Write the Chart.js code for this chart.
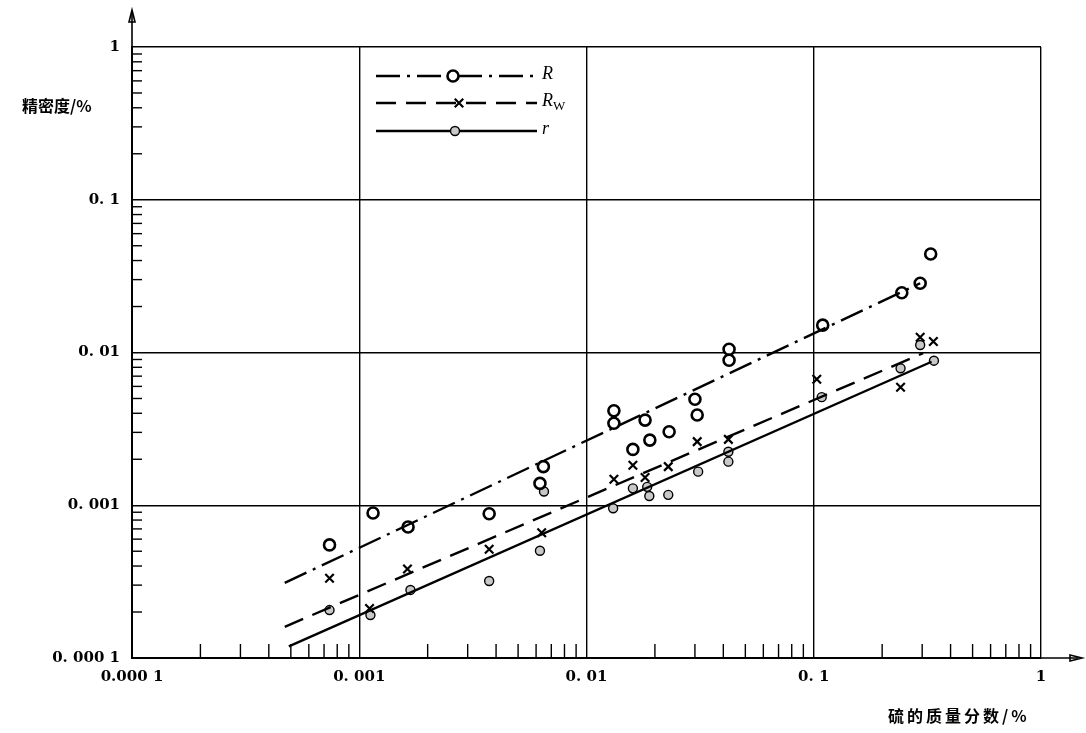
<!DOCTYPE html>
<html>
<head>
<meta charset="utf-8">
<script src="https://cdn.jsdelivr.net/npm/chart.js@4/dist/chart.umd.min.js"></script>
<style>
  body { margin: 0; background: #fff; }
</style>
</head>
<body>
<canvas id="precChart" width="1086" height="733"></canvas>
<script>
// tick values / labels
const tickValues = [0.0001, 0.001, 0.01, 0.1, 1];
const xTickLabels = ['0.000 1', '0. 001', '0. 01', '0. 1', '1'];
const yTickLabels = ['0. 000 1', '0. 001', '0. 01', '0. 1', '1'];

// R  (open circles)
const R_x = [0.00074, 0.00115, 0.00164, 0.00373, 0.00624, 0.00646, 0.0132, 0.0132, 0.0160, 0.0181,
             0.0190, 0.0231, 0.0300, 0.0307, 0.0424, 0.0424, 0.1095, 0.244, 0.294, 0.327];
const R_y = [0.00055, 0.00089, 0.00072, 0.00088, 0.00139, 0.00179, 0.00416, 0.00344, 0.00232, 0.00361,
             0.00267, 0.00303, 0.00494, 0.0039, 0.0105, 0.0089, 0.0151, 0.0246, 0.0284, 0.0441];

// Rw  (crosses)
const Rw_x = [0.00074, 0.00111, 0.00163, 0.00373, 0.00635, 0.0132, 0.0160, 0.0181, 0.0229, 0.0307,
              0.0421, 0.1031, 0.241, 0.294, 0.336];
const Rw_y = [0.000333, 0.000211, 0.000383, 0.000515, 0.000661, 0.00148, 0.00183, 0.00152, 0.00179, 0.00261,
              0.0027, 0.00668, 0.00592, 0.0126, 0.0118];

// r  (small shaded circles)
const r_x = [0.00074, 0.00112, 0.00168, 0.00373, 0.00624, 0.0065, 0.0131, 0.0160, 0.0185, 0.0189,
             0.0229, 0.0310, 0.0421, 0.0421, 0.1084, 0.241, 0.338, 0.294];
const r_y = [0.000206, 0.000191, 0.000279, 0.000319, 0.000504, 0.00123, 0.000955, 0.00129, 0.00132, 0.00115,
             0.00117, 0.00166, 0.00224, 0.00193, 0.0051, 0.00788, 0.00884, 0.0112];

// fitted lines (end points)
const R_fitX = [0.00047, 0.294];
const R_fitY = [0.00031, 0.0284];
const Rw_fitX = [0.00047, 0.303];
const Rw_fitY = [0.00016, 0.0099];
const r_fitX = [0.00049, 0.33];
const r_fitY = [0.000119, 0.0087];

function pts(xs, ys) {
  return xs.map(function (x, i) { return { x: x, y: ys[i] }; });
}

const serif = "'DejaVu Serif', 'Liberation Serif', serif";
const tSerif = "'Liberation Serif', 'DejaVu Serif', serif";
const cjk = "'Noto Sans CJK SC', sans-serif";

const lineR = { borderColor: '#000', borderWidth: 2.4, borderDash: [24, 7, 3, 7] };
const lineRw = { borderColor: '#000', borderWidth: 2.4, borderDash: [20, 10] };
const lineSmall = { borderColor: '#000', borderWidth: 2.4, borderDash: [] };

const markR = { pointStyle: 'circle', radius: 5.5, borderWidth: 2.6, borderColor: '#000', backgroundColor: '#fff' };
const markRw = { pointStyle: 'crossRot', radius: 6, borderWidth: 2.2, borderColor: '#000', backgroundColor: '#fff' };
const markSmall = { pointStyle: 'circle', radius: 4.5, borderWidth: 1.4, borderColor: '#000', backgroundColor: '#c8c8c8' };

const legendItems = [
  { text: 'R', sub: '', line: lineR, mark: markR, markX: 453 },
  { text: 'R', sub: 'W', line: lineRw, mark: markRw, markX: 459 },
  { text: 'r', sub: '', line: lineSmall, mark: markSmall, markX: 455 }
];

const decor = {
  id: 'decor',
  beforeDraw: function (chart) {
    const ctx = chart.ctx;
    ctx.save();
    ctx.fillStyle = '#fff';
    ctx.fillRect(0, 0, chart.width, chart.height);
    ctx.restore();
  },
  afterDraw: function (chart) {
    const ctx = chart.ctx;
    const xs = chart.scales.x, ys = chart.scales.y;
    const a = chart.chartArea;
    ctx.save();
    ctx.strokeStyle = '#000';
    ctx.lineWidth = 1.4;
    // minor ticks
    for (let d = -4; d < 0; d++) {
      for (let k = 2; k <= 9; k++) {
        const v = k * Math.pow(10, d);
        const px = xs.getPixelForValue(v);
        ctx.beginPath();
        ctx.moveTo(px, a.bottom);
        ctx.lineTo(px, a.bottom - 14);
        ctx.stroke();
        const py = ys.getPixelForValue(v);
        ctx.beginPath();
        ctx.moveTo(a.left, py);
        ctx.lineTo(a.left + 10, py);
        ctx.stroke();
      }
    }
    // axis arrows
    ctx.lineWidth = 1.6;
    ctx.beginPath();
    ctx.moveTo(a.left, a.top);
    ctx.lineTo(a.left, 12);
    ctx.moveTo(a.right, a.bottom);
    ctx.lineTo(1078, a.bottom);
    ctx.stroke();
    ctx.beginPath();
    ctx.moveTo(a.left - 3, 22);
    ctx.lineTo(a.left, 10);
    ctx.lineTo(a.left + 3, 22);
    ctx.closePath();
    ctx.stroke();
    ctx.beginPath();
    ctx.moveTo(1070, a.bottom - 3);
    ctx.lineTo(1082, a.bottom);
    ctx.lineTo(1070, a.bottom + 3);
    ctx.closePath();
    ctx.stroke();

    // axis titles
    ctx.fillStyle = '#000';
    ctx.textBaseline = 'middle';
    ctx.textAlign = 'left';
    ctx.font = 'bold 16px ' + cjk;
    ctx.fillText('精密度/%', 22, 106);
    ctx.letterSpacing = '3px';
    ctx.fillText('硫的质量分数/%', 888, 716);
    ctx.letterSpacing = '0px';

    // legend
    const lx0 = 376, lx1 = 537;
    const ly = [76, 103, 131];
    legendItems.forEach(function (it, i) {
      const y = ly[i];
      ctx.save();
      ctx.strokeStyle = '#000';
      ctx.lineWidth = it.line.borderWidth;
      ctx.setLineDash(it.line.borderDash);
      ctx.beginPath();
      ctx.moveTo(lx0, y);
      ctx.lineTo(lx1, y);
      ctx.stroke();
      ctx.restore();
      ctx.save();
      ctx.strokeStyle = it.mark.borderColor;
      ctx.fillStyle = it.mark.backgroundColor;
      ctx.lineWidth = it.mark.borderWidth;
      Chart.helpers.drawPoint(ctx, { pointStyle: it.mark.pointStyle, radius: it.mark.radius, rotation: 0, borderWidth: it.mark.borderWidth }, it.markX, y);
      ctx.restore();
      ctx.fillStyle = '#000';
      ctx.font = 'italic 18px ' + tSerif;
      ctx.textAlign = 'left';
      ctx.textBaseline = 'middle';
      ctx.fillText(it.text, 542, y - 2);
      if (it.sub) {
        const w = ctx.measureText(it.text).width;
        ctx.font = '13px ' + tSerif;
        ctx.fillText(it.sub, 542 + w, y + 4);
      }
    });
    ctx.restore();
  }
};

const ctx1 = document.getElementById('precChart').getContext('2d');
new Chart(ctx1, {
  type: 'scatter',
  data: {
    datasets: [
      Object.assign({ label: 'R fit', data: pts(R_fitX, R_fitY), showLine: true, pointRadius: 0 }, lineR),
      Object.assign({ label: 'Rw fit', data: pts(Rw_fitX, Rw_fitY), showLine: true, pointRadius: 0 }, lineRw),
      Object.assign({ label: 'r fit', data: pts(r_fitX, r_fitY), showLine: true, pointRadius: 0 }, lineSmall),
      { label: 'R', data: pts(R_x, R_y), pointStyle: markR.pointStyle, pointRadius: markR.radius,
        pointBorderWidth: markR.borderWidth, pointBorderColor: '#000', pointBackgroundColor: markR.backgroundColor },
      { label: 'Rw', data: pts(Rw_x, Rw_y), pointStyle: markRw.pointStyle, pointRadius: markRw.radius,
        pointBorderWidth: markRw.borderWidth, pointBorderColor: '#000', pointBackgroundColor: '#fff' },
      { label: 'r', data: pts(r_x, r_y), pointStyle: markSmall.pointStyle, pointRadius: markSmall.radius,
        pointBorderWidth: markSmall.borderWidth, pointBorderColor: '#000', pointBackgroundColor: markSmall.backgroundColor }
    ]
  },
  options: {
    responsive: false,
    animation: false,
    layout: { padding: { top: 47, right: 45, left: 0, bottom: 0 } },
    plugins: { legend: { display: false }, tooltip: { enabled: false } },
    scales: {
      x: {
        type: 'logarithmic',
        min: 0.0001,
        max: 1,
        afterBuildTicks: function (s) { s.ticks = tickValues.map(function (v) { return { value: v }; }); },
        afterFit: function (s) { s.height = 75; },
        ticks: {
          callback: function (v, i) { return xTickLabels[i]; },
          autoSkip: false, maxRotation: 0, padding: 10, color: '#000',
          font: { family: serif, weight: 'bold', size: 15 }
        },
        grid: { color: '#000', lineWidth: 1.4, drawTicks: false },
        border: { color: '#000', width: 2 }
      },
      y: {
        type: 'logarithmic',
        min: 0.0001,
        max: 1,
        afterBuildTicks: function (s) { s.ticks = tickValues.map(function (v) { return { value: v }; }); },
        afterFit: function (s) { s.width = 132; },
        ticks: {
          callback: function (v, i) { return yTickLabels[i]; },
          autoSkip: false, padding: 12, color: '#000',
          font: { family: serif, weight: 'bold', size: 15 }
        },
        grid: { color: '#000', lineWidth: 1.4, drawTicks: false },
        border: { color: '#000', width: 2 }
      }
    }
  },
  plugins: [decor]
});
</script>
</body>
</html>
